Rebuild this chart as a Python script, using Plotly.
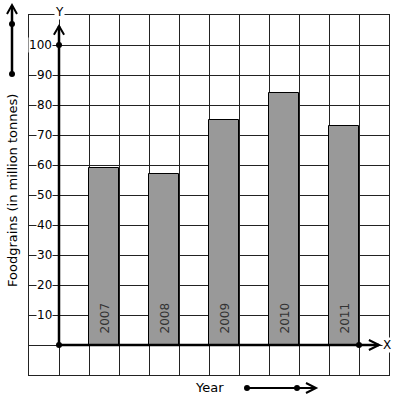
import plotly.graph_objects as go

years = ["2007", "2008", "2009", "2010", "2011"]
foodgrains = [59, 57, 75, 84, 73]
y_ticks = [10, 20, 30, 40, 50, 60, 70, 80, 90, 100]

FONT = "DejaVu Sans"
bar_x = [1.5 + 2 * i for i in range(len(years))]

fig = go.Figure()
fig.add_trace(go.Bar(
    x=bar_x, y=foodgrains, width=1,
    marker=dict(color="#999999", line=dict(color="black", width=1)),
    hoverinfo="skip", showlegend=False,
))
# axis dots
fig.add_trace(go.Scatter(
    x=[0, 0, 10], y=[0, 100, 0], mode="markers",
    marker=dict(color="black", size=6), cliponaxis=False,
    hoverinfo="skip", showlegend=False,
))

shapes = []
# axes
shapes.append(dict(type="line", xref="x", yref="y", x0=0, y0=0, x1=0, y1=106.3,
                   line=dict(color="black", width=2.5)))
shapes.append(dict(type="path", xref="x", yref="y",
                   path="M -0.17,103.4 L 0,106.3 L 0.17,103.4",
                   line=dict(color="black", width=2)))
shapes.append(dict(type="line", xref="x", yref="y", x0=0, y0=0, x1=10.67, y1=0,
                   line=dict(color="black", width=2.5)))
shapes.append(dict(type="path", xref="x", yref="y",
                   path="M 10.33,1.67 L 10.67,0 L 10.33,-1.67",
                   line=dict(color="black", width=2)))


def px(xp):
    return (xp - 29) / 360


def py(yp):
    return (375 - yp) / 360


# left arrow
shapes.append(dict(type="line", xref="paper", yref="paper",
                   x0=px(12), y0=py(74), x1=px(12), y1=py(6),
                   line=dict(color="black", width=2.5)))
shapes.append(dict(type="path", xref="paper", yref="paper",
                   path=f"M {px(7)},{py(14)} L {px(12)},{py(5)} L {px(17)},{py(14)}",
                   line=dict(color="black", width=2)))
for yy in (24, 74):
    shapes.append(dict(type="circle", xref="paper", yref="paper",
                       x0=px(9), x1=px(15), y0=py(yy - 3), y1=py(yy + 3),
                       fillcolor="black", line=dict(color="black", width=0)))
# bottom arrow
shapes.append(dict(type="line", xref="paper", yref="paper",
                   x0=px(247), y0=py(388), x1=px(316), y1=py(388),
                   line=dict(color="black", width=2)))
shapes.append(dict(type="path", xref="paper", yref="paper",
                   path=f"M {px(306)},{py(383)} L {px(316)},{py(388)} L {px(306)},{py(393)}",
                   line=dict(color="black", width=2)))
for xx in (247, 297):
    shapes.append(dict(type="circle", xref="paper", yref="paper",
                       x0=px(xx - 3), x1=px(xx + 3), y0=py(391), y1=py(385),
                       fillcolor="black", line=dict(color="black", width=0)))

annotations = []
for v in y_ticks:
    annotations.append(dict(x=0, y=v, xref="x", yref="y", text=str(v),
                            showarrow=False, xanchor="right", yanchor="middle",
                            xshift=-6, bgcolor="white", borderpad=0,
                            font=dict(family=FONT, size=12, color="black")))
for xv, yr in zip(bar_x, years):
    annotations.append(dict(x=xv, y=0, xref="x", yref="y", text=yr,
                            showarrow=False, textangle=-90, xanchor="center",
                            yanchor="bottom", yshift=9,
                            font=dict(family=FONT, size=12, color="#333333")))
annotations.append(dict(x=0, y=1, xref="x", yref="paper", text="Y", showarrow=False,
                        xanchor="center", yanchor="middle", yshift=3, bgcolor="white",
                        borderpad=0, font=dict(family=FONT, size=12, color="black")))
annotations.append(dict(x=10.93, y=0, xref="x", yref="y", text="X", showarrow=False,
                        xanchor="center", yanchor="middle", bgcolor="white",
                        borderpad=0, font=dict(family=FONT, size=12, color="black")))
annotations.append(dict(x=px(209), y=py(387), xref="paper", yref="paper", text="Year",
                        showarrow=False, xanchor="center", yanchor="middle",
                        font=dict(family=FONT, size=13, color="black")))
annotations.append(dict(x=px(12), y=py(191), xref="paper", yref="paper",
                        text="Foodgrains (in million tonnes)", textangle=-90,
                        showarrow=False, xanchor="center", yanchor="middle",
                        font=dict(family=FONT, size=13, color="black")))

fig.update_layout(
    width=397, height=401,
    margin=dict(l=29, r=8, t=15, b=26),
    paper_bgcolor="white", plot_bgcolor="white",
    shapes=shapes, annotations=annotations,
    bargap=0,
    xaxis=dict(range=[-1, 11], dtick=1, tick0=0, showgrid=True, gridcolor="#222222",
               gridwidth=1, zeroline=False, showticklabels=False, ticks="",
               showline=True, mirror=True, linecolor="#222222", linewidth=1,
               fixedrange=True),
    yaxis=dict(range=[-10, 110], dtick=10, tick0=0, showgrid=True, gridcolor="#222222",
               gridwidth=1, zeroline=False, showticklabels=False, ticks="",
               showline=True, mirror=True, linecolor="#222222", linewidth=1,
               fixedrange=True),
    font=dict(family=FONT),
)

fig.write_html(
    "out.html",
    config={"displayModeBar": False},
    post_script="document.body.style.margin='0';document.body.style.overflow='hidden';",
)
